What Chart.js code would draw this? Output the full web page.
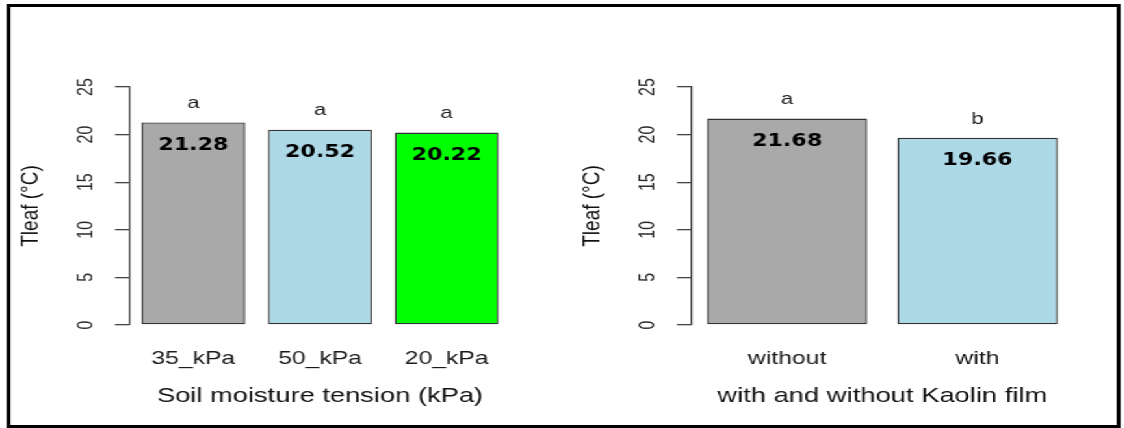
<!DOCTYPE html>
<html>
<head>
<meta charset="utf-8">
<script src="https://cdn.jsdelivr.net/npm/chart.js@4.4.1/dist/chart.umd.min.js"></script>
<style>
  html, body { margin: 0; padding: 0; background: #fff; overflow: hidden; }
  #stage { position: absolute; left: 0; top: 0; height: 428px; transform-origin: 0 0; }
  .panel { position: absolute; top: 0; height: 428px; }
  #frame { position: absolute; top: 4px; height: 424px; border: 3px solid #000; box-sizing: border-box; pointer-events: none; }
</style>
</head>
<body>
<div id="stage">
  <div class="panel" id="soilPanel"><canvas id="soilChart"></canvas></div>
  <div class="panel" id="kaolinPanel"><canvas id="kaolinChart"></canvas></div>
  <div id="frame"></div>
</div>
<script>
// datos de las dos figuras
const soilLabels = ['35_kPa', '50_kPa', '20_kPa'];
const soilValues = [21.28, 20.52, 20.22];
const soilLetters = ['a', 'a', 'a'];

const kaolinLabels = ['without', 'with'];
const kaolinValues = [21.68, 19.66];
const kaolinLetters = ['a', 'b'];

const yMin = 0;
const yMax = 25;
const yStep = 5;

// the original picture is stretched sideways, so the whole stage is too
const STRETCH = 1.3;
const W = 1124 / STRETCH;
const stage = document.getElementById('stage');
stage.style.width = W + 'px';
stage.style.transform = `scaleX(${STRETCH})`;
document.getElementById('soilPanel').style.cssText = `left:0;width:${W / 2}px`;
document.getElementById('kaolinPanel').style.cssText = `left:${W / 2}px;width:${W / 2}px`;
const frame = document.getElementById('frame');
frame.style.left = (6 / STRETCH) + 'px';
frame.style.width = ((1121 - 6) / STRETCH) + 'px';

const AXIS_FONT = '"Liberation Sans", Arial, sans-serif';

const barNotes = {
    id: 'barNotes',
    afterDatasetsDraw(chart, args, opts) {
        const ctx = chart.ctx;
        const meta = chart.getDatasetMeta(0);
        const values = chart.data.datasets[0].data;
        ctx.save();
        ctx.textAlign = 'center';
        ctx.textBaseline = 'middle';
        meta.data.forEach((bar, i) => {
            ctx.fillStyle = '#1a1a1a';
            ctx.font = `17px ${AXIS_FONT}`;
            ctx.fillText(opts.letters[i], bar.x, bar.y - 19);
            ctx.fillStyle = '#000';
            ctx.font = 'bold 17px "DejaVu Sans", sans-serif';
            ctx.fillText(values[i].toFixed(2), bar.x, bar.y + 23);
        });
        ctx.restore();
    }
};

function buildChart(id, labels, values, letters, colors, xTitle, barPct) {
    return new Chart(document.getElementById(id), {
        type: 'bar',
        data: {
            labels: labels,
            datasets: [{
                data: values,
                backgroundColor: colors,
                borderColor: '#333',
                borderWidth: 1.4,
                borderSkipped: false,
                categoryPercentage: 1,
                barPercentage: barPct
            }]
        },
        options: {
            responsive: true,
            maintainAspectRatio: false,
            animation: false,
            layout: { padding: { left: 0, right: 40, top: 87, bottom: 0 } },
            plugins: {
                legend: { display: false },
                tooltip: { enabled: false },
                barNotes: { letters: letters }
            },
            scales: {
                x: {
                    grid: { display: false },
                    border: { display: false },
                    ticks: { color: '#1a1a1a', font: { family: AXIS_FONT, size: 19 }, padding: 14, autoSkip: false, maxRotation: 0 },
                    title: {
                        display: true,
                        text: xTitle,
                        color: '#111',
                        font: { family: AXIS_FONT, size: 21 },
                        padding: { top: 0, bottom: 19 }
                    },
                    afterFit: s => { s.height = 103; }
                },
                y: {
                    min: yMin,
                    max: yMax,
                    ticks: {
                        stepSize: yStep,
                        minRotation: 90,
                        maxRotation: 90,
                        crossAlign: 'center',
                        padding: 13,
                        color: '#2a2a2a',
                        font: { family: AXIS_FONT, size: 16 }
                    },
                    grid: { drawOnChartArea: false, drawTicks: true, tickLength: 11.5, color: '#444', lineWidth: 1.3 },
                    border: { display: true, color: '#444', width: 1.3 },
                    title: {
                        display: true,
                        text: 'Tleaf (°C)',
                        color: '#111',
                        font: { family: AXIS_FONT, size: 19 },
                        padding: { top: 12, bottom: 0 }
                    },
                    afterFit: s => { s.width = 100; }
                }
            }
        },
        plugins: [barNotes]
    });
}

buildChart('soilChart', soilLabels, soilValues, soilLetters,
    ['#A9A9A9', '#ADD8E6', '#00FF00'], 'Soil moisture tension (kPa)', 0.82);
buildChart('kaolinChart', kaolinLabels, kaolinValues, kaolinLetters,
    ['#A9A9A9', '#ADD8E6'], 'with and without Kaolin film', 0.842);
</script>
</body>
</html>
